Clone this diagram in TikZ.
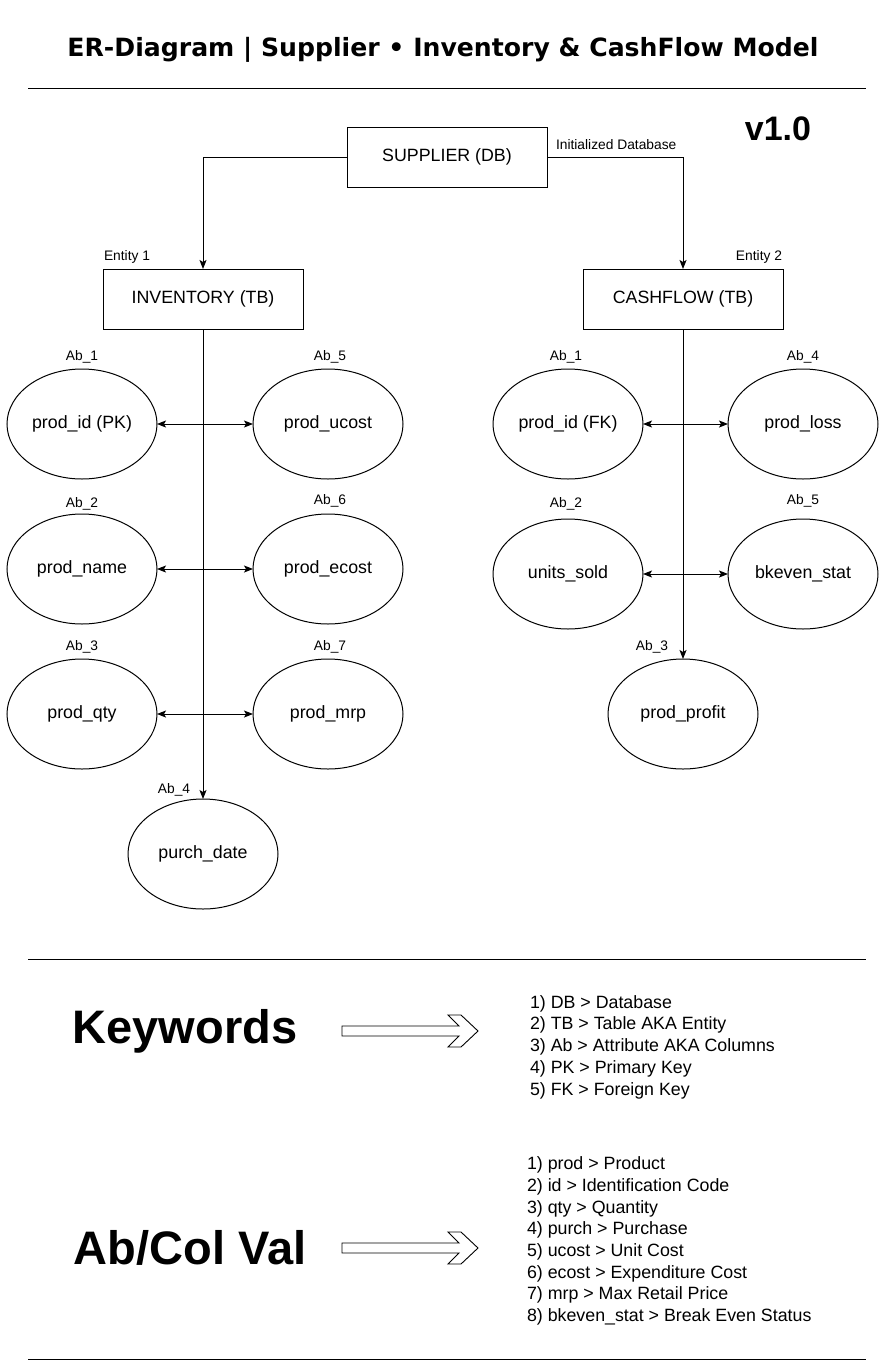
\documentclass[tikz,border=0pt]{standalone}
\usepackage{fontspec}
\setmainfont{Liberation Sans}
\newfontfamily\titlefont{DejaVu Sans}
\usetikzlibrary{shapes.geometric,arrows.meta}
\begin{document}
\begin{tikzpicture}[x=1pt,y=-1pt,
  every node/.style={inner sep=0pt,outer sep=0pt},
  line width=1pt,
  entbox/.style={draw,minimum width=200pt,minimum height=60pt,font=\fontsize{17.8}{20}\selectfont},
  attr/.style={draw,ellipse,minimum width=150pt,minimum height=110pt,font=\fontsize{17.8}{20}\selectfont},
  small/.style={font=\fontsize{13.8}{16}\selectfont,yshift=-2pt},
  arr/.style={-{Stealth[length=9pt,width=7pt,inset=2pt]}},
  darr/.style={{Stealth[length=9pt,width=7pt,inset=2pt]}-{Stealth[length=9pt,width=7pt,inset=2pt]}},
  rule/.style={line width=1pt},
  big/.style={font=\fontsize{47}{50}\selectfont\bfseries},
  listtxt/.style={align=left,anchor=west,font=\fontsize{17.8}{21.7}\selectfont}
]
\useasboundingbox (0,0) rectangle (886,1368);
\fill[white] (0,0) rectangle (886,1368);

% title
\node (title) at (443,50) {\resizebox{751pt}{!}{\titlefont\bfseries ER-Diagram | Supplier • Inventory \& CashFlow Model}};
\draw[rule] (28,88) coordinate (r1a) -- (866,88) coordinate (r1b);
\node (ver) at (778,129) {\fontsize{34}{36}\selectfont\bfseries v1.0};

% entities
\node[entbox] (sup) at (447,157) {SUPPLIER (DB)};
\node[entbox] (inv) at (203,299) {INVENTORY (TB)};
\node[entbox] (cash) at (683,299) {CASHFLOW (TB)};
\node[small,anchor=west] (e1) at (104,255) {Entity 1};
\node[small,anchor=east] (e2) at (782,255) {Entity 2};
\node[small,anchor=west] (initdb) at (556,143) {Initialized Database};

\draw[arr] (sup.west) -| (inv.north);
\draw[arr] (sup.east) -| (cash.north);

% inventory attributes
\node[attr] (pid) at (82,424) {prod\_id (PK)};
\node[attr] (puc) at (328,424) {prod\_ucost};
\node[attr] (pn) at (82,569) {prod\_name};
\node[attr] (pec) at (328,569) {prod\_ecost};
\node[attr] (pq) at (82,714) {prod\_qty};
\node[attr] (pm) at (328,714) {prod\_mrp};
\node[attr] (pd) at (203,854) {purch\_date};
\node[small] (la1) at (82,355) {Ab\_1};
\node[small] (la5) at (330,355) {Ab\_5};
\node[small] (la2) at (82,502) {Ab\_2};
\node[small] (la6) at (330,499) {Ab\_6};
\node[small] (la3) at (82,645) {Ab\_3};
\node[small] (la7) at (330,645) {Ab\_7};
\node[small] (la4) at (174,788) {Ab\_4};

\draw[arr] (inv.south) -- (pd.north);
\draw[darr] (pid.east) -- (puc.west);
\draw[darr] (pn.east) -- (pec.west);
\draw[darr] (pq.east) -- (pm.west);

% cashflow attributes
\node[attr] (cid) at (568,424) {prod\_id (FK)};
\node[attr] (cl) at (803,424) {prod\_loss};
\node[attr] (cu) at (568,574) {units\_sold};
\node[attr] (cb) at (803,574) {bkeven\_stat};
\node[attr] (cp) at (683,714) {prod\_profit};
\node[small] (lc1) at (566,355) {Ab\_1};
\node[small] (lc4) at (803,355) {Ab\_4};
\node[small] (lc2) at (566,502) {Ab\_2};
\node[small] (lc5) at (803,499) {Ab\_5};
\node[small] (lc3) at (652,645) {Ab\_3};

\draw[arr] (cash.south) -- (cp.north);
\draw[darr] (cid.east) -- (cl.west);
\draw[darr] (cu.east) -- (cb.west);

% legend
\draw[rule] (28,959) coordinate (r2a) -- (866,959) coordinate (r2b);
\draw[rule] (28,1359) coordinate (r3a) -- (866,1359) coordinate (r3b);

\node[big] (kw) at (185,1031) {Keywords};
\draw[line width=0.9pt] (342,1026) -- (459,1026) -- (448,1015) -- (461,1015) -- (478,1031) -- (461,1047) -- (448,1047) -- (459,1036) -- (342,1036) -- cycle;
\node[listtxt] (kwlist) at (530,1047) {1) DB > Database\\2) TB > Table AKA Entity\\3) Ab > Attribute AKA Columns\\4) PK > Primary Key\\5) FK > Foreign Key};

\node[big] (ab) at (190,1248) {Ab/Col Val};
\draw[line width=0.9pt] (342,1243) -- (459,1243) -- (448,1232) -- (461,1232) -- (478,1248) -- (461,1264) -- (448,1264) -- (459,1253) -- (342,1253) -- cycle;
\node[listtxt] (ablist) at (527,1241) {1) prod > Product\\2) id > Identification Code\\3) qty > Quantity\\4) purch > Purchase\\5) ucost > Unit Cost\\6) ecost > Expenditure Cost\\7) mrp > Max Retail Price\\8) bkeven\_stat > Break Even Status};
\end{tikzpicture}
\end{document}
